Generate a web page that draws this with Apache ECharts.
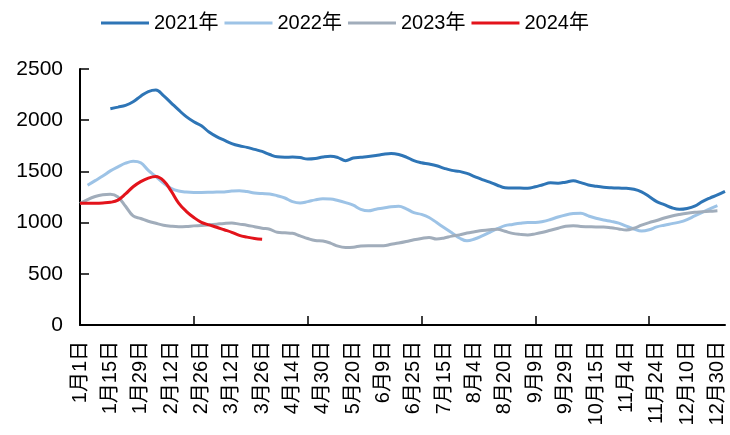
<!DOCTYPE html>
<html>
<head>
<meta charset="utf-8">
<script src="https://cdn.jsdelivr.net/npm/echarts@6/dist/echarts.min.js"></script>
<style>
html,body{margin:0;padding:0;background:#fff;}
#chart{width:730px;height:435px;}
</style>
</head>
<body>
<div id="chart"></div>
<script>
// Tick labels shown on the category axis (every 4th category)
const labelDates = ['1月1日','1月15日','1月29日','2月12日','2月26日','3月12日','3月26日','4月14日','4月30日','5月20日','6月9日','6月25日','7月15日','8月4日','8月20日','9月9日','9月29日','10月15日','11月4日','11月24日','12月10日','12月30日'];
const pointsPerLabel = 4;
const totalPoints = 86;

const seriesNames = ['2021年','2022年','2023年','2024年'];

const v2021 = [null,null,null,null,
 2112,2128,2145,2180,2235,2280,2295,2240,2170,2100,
 2035,1985,1945,1885,1840,1805,1772,1750,1735,1715,
 1695,1665,1642,1638,1640,1635,1620,1625,1640,1648,
 1635,1605,1630,1638,1645,1655,1668,1675,1665,1640,
 1605,1585,1572,1555,1530,1510,1500,1480,1450,1420,
 1395,1365,1340,1337,1338,1335,1350,1370,1388,1385,
 1395,1408,1390,1368,1355,1345,1340,1337,1335,1325,
 1300,1255,1205,1175,1145,1130,1138,1160,1205,1240,
 1270,1305];

const v2022 = [null,
 1365,1410,1455,1505,1545,1580,1600,1585,1510,1450,
 1385,1335,1308,1298,1295,1295,1296,1298,1300,1308,
 1312,1303,1290,1284,1280,1262,1240,1205,1192,1205,
 1222,1232,1230,1215,1195,1170,1130,1115,1130,1142,
 1155,1160,1135,1097,1080,1050,1000,950,900,850,
 822,840,870,905,940,970,982,993,1000,1000,
 1010,1030,1055,1075,1088,1092,1065,1042,1025,1012,
 995,965,938,918,930,958,975,990,1005,1030,
 1065,1100,1135,1165,
 null];

const v2023 = [
 1185,1225,1255,1272,1277,1250,1160,1065,1040,1013,
 993,975,965,960,962,968,972,978,985,992,
 996,985,975,960,945,935,905,900,895,870,
 845,825,820,800,770,758,760,772,775,775,
 775,788,800,815,832,845,855,840,850,868,
 880,898,910,922,930,935,915,895,885,880,
 890,905,925,945,965,970,962,960,958,958,
 950,938,928,945,975,1000,1020,1045,1065,1080,
 1092,1100,1105,1110,1115,
 null];

const v2024 = [
 1190,1190,1190,1192,1198,1220,1280,1350,1400,1435,
 1450,1410,1310,1190,1110,1050,1003,978,955,930,
 905,875,858,845,838];

const colors = ['#2E75B6','#9DC3E6','#A1ADBB','#E3131B'];

// category list: labelled dates every pointsPerLabel, unique placeholders between
const categories = [];
for (let i = 0; i < totalPoints; i++) {
  const j = Math.floor(i / pointsPerLabel);
  const r = i % pointsPerLabel;
  const base = labelDates[Math.min(j, labelDates.length - 1)];
  categories.push(r === 0 && j < labelDates.length ? base : base + '#' + (i));
}

const FONT = "'Liberation Sans', Arial, 'Noto Sans CJK SC', sans-serif";
const chart = echarts.init(document.getElementById('chart'), null, {renderer: 'canvas'});
const data = [v2021, v2022, v2023, v2024];

chart.setOption({
  animation: false,
  backgroundColor: '#fff',
  color: colors,
  legend: {
    top: 13,
    left: 101,
    padding: 0,
    icon: 'rect',
    itemWidth: 48,
    itemHeight: 3,
    itemGap: 6,
    textStyle: {fontFamily: FONT, fontSize: 20, color: '#000'},
    data: seriesNames
  },
  grid: {left: 80, right: 5, top: 69, bottom: 110, containLabel: false},
  xAxis: {
    type: 'category',
    data: categories,
    boundaryGap: false,
    axisLine: {lineStyle: {color: '#000', width: 2}},
    axisTick: {show: true, inside: true, length: 9, interval: 14, lineStyle: {color: '#000', width: 1.5}},
    axisLabel: {
      interval: pointsPerLabel - 1,
      rotate: 90,
      margin: 16,
      fontFamily: FONT,
      fontSize: 20,
      color: '#000',
      formatter: function (v) { return v.split('#')[0]; }
    },
    splitLine: {show: false}
  },
  yAxis: {
    type: 'value',
    min: 0,
    max: 2500,
    interval: 500,
    axisLine: {show: true, lineStyle: {color: '#000', width: 2}},
    axisTick: {show: true, inside: true, length: 9, lineStyle: {color: '#000', width: 1.5}},
    axisLabel: {margin: 17, fontFamily: FONT, fontSize: 21, color: '#000',
      formatter: function (v) { return String(v); }},
    splitLine: {show: false}
  },
  series: seriesNames.map((n, k) => ({
    name: n,
    type: 'line',
    data: data[k],
    symbol: 'none',
    smooth: 0.4,
    connectNulls: false,
    lineStyle: {width: 3, color: colors[k]},
    itemStyle: {color: colors[k]},
    z: k === 3 ? 5 : 2
  }))
});
</script>
</body>
</html>
